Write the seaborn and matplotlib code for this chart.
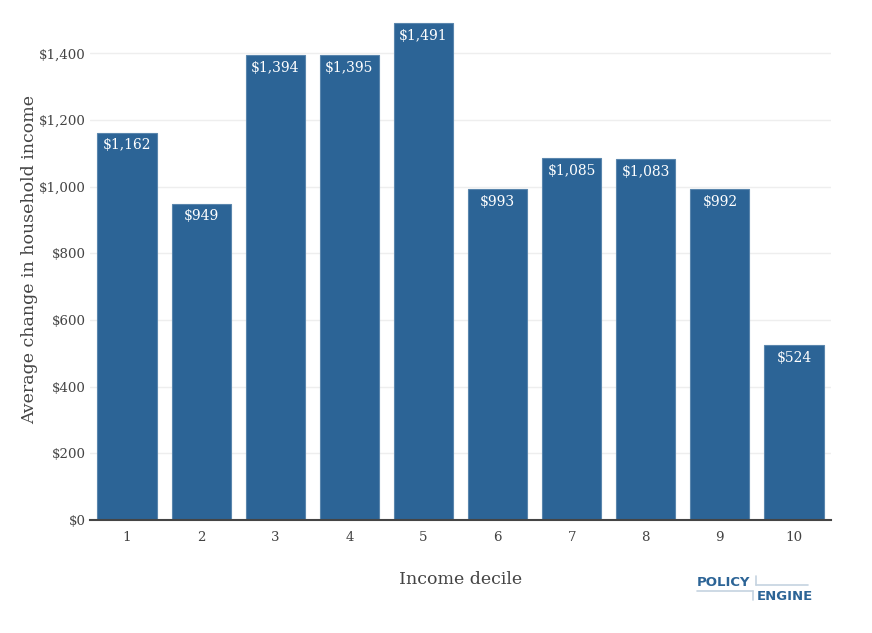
import matplotlib
matplotlib.use("Agg")
import matplotlib.pyplot as plt
import seaborn as sns
import pandas as pd
from matplotlib.lines import Line2D

# data
deciles = [1, 2, 3, 4, 5, 6, 7, 8, 9, 10]
avg_change = [1162, 949, 1394, 1395, 1491, 993, 1085, 1083, 992, 524]
y_ticks = [0, 200, 400, 600, 800, 1000, 1200, 1400]

df = pd.DataFrame({"decile": deciles, "change": avg_change})

sns.set_style("white")
plt.rcParams['font.family'] = ['DejaVu Serif']

bar_color = "#2C6496"
text_color = "#444444"

fig = plt.figure(figsize=(8.72, 6.33), dpi=100)
ax = fig.add_axes([90 / 872, 113 / 633, 741 / 872, 522 / 633])

sns.barplot(data=df, x="decile", y="change", color=bar_color, saturation=1,
            width=0.8, edgecolor="#5a86ad", linewidth=0.8, ax=ax, zorder=3)

# labels inside the top of each bar
for i, v in enumerate(avg_change):
    ax.text(i, v - 38, f"${v:,}", ha="center", va="center", color="white",
            fontsize=10, zorder=4)

ax.set_ylim(0, 1566)
ax.set_xlim(-0.5, 9.5)
ax.set_yticks(y_ticks)
ax.set_yticklabels([f"${t:,}" for t in y_ticks])
ax.yaxis.grid(True, color="#eeeeee", linewidth=1, zorder=0)
ax.set_axisbelow(True)

for s in ["top", "right", "left"]:
    ax.spines[s].set_visible(False)
ax.spines["bottom"].set_color("#444444")
ax.spines["bottom"].set_linewidth(1.5)
ax.spines["bottom"].set_zorder(5)

ax.tick_params(axis="both", length=0, labelsize=9.6, colors=text_color)
ax.tick_params(axis="y", pad=3)
ax.tick_params(axis="x", pad=8)

ax.set_xlabel("Income decile", fontsize=12.5, color=text_color, labelpad=19)
ax.set_ylabel("Average change in household income", fontsize=12.5,
              color=text_color)
ax.yaxis.set_label_coords(-0.070, 0.5)

# PolicyEngine logo
logo_color = "#2C6496"
line_color = "#c5d3e0"
fig.text(697 / 872, 1 - 582 / 633, "POLICY", fontsize=9.5, fontweight="bold",
         color=logo_color, family="DejaVu Sans", va="center", ha="left")
fig.text(757 / 872, 1 - 596 / 633, "ENGINE", fontsize=9.5, fontweight="bold",
         color=logo_color, family="DejaVu Sans", va="center", ha="left")
fig.add_artist(Line2D([756 / 872, 808 / 872], [1 - 585 / 633, 1 - 585 / 633],
                      color=line_color, lw=1.2, transform=fig.transFigure))
fig.add_artist(Line2D([756 / 872, 756 / 872], [1 - 576 / 633, 1 - 585 / 633],
                      color=line_color, lw=1.2, transform=fig.transFigure))
fig.add_artist(Line2D([697 / 872, 753 / 872], [1 - 591 / 633, 1 - 591 / 633],
                      color=line_color, lw=1.2, transform=fig.transFigure))
fig.add_artist(Line2D([753 / 872, 753 / 872], [1 - 591 / 633, 1 - 600 / 633],
                      color=line_color, lw=1.2, transform=fig.transFigure))

fig.savefig("out.png", dpi=100)
